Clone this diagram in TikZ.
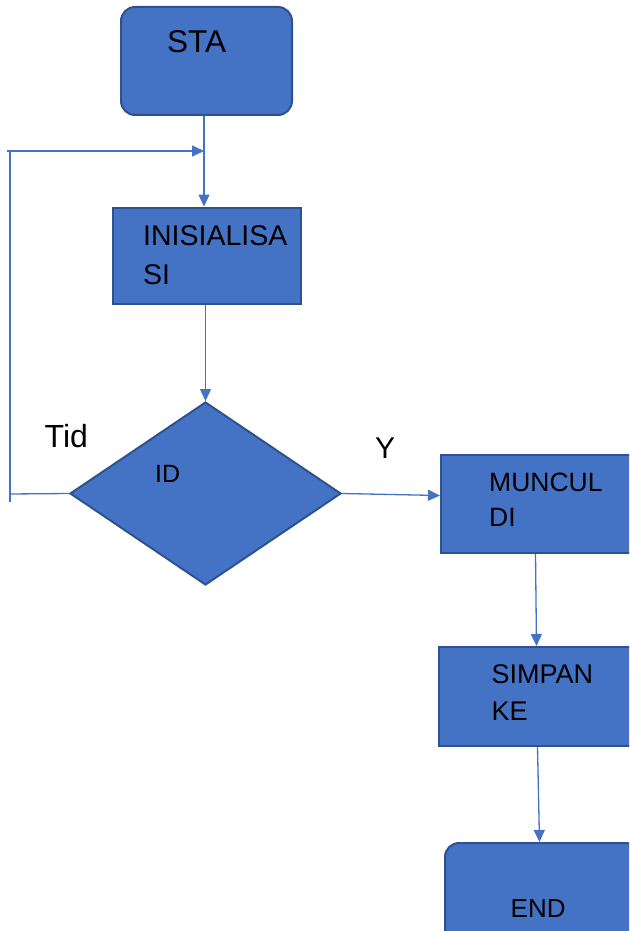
\documentclass[tikz,border=0pt]{standalone}
\usepackage{fontspec}
\setmainfont{Liberation Sans}
\usetikzlibrary{shapes.geometric,arrows.meta}
\definecolor{boxblue}{HTML}{4472C4}
\definecolor{boxedge}{HTML}{2F528F}

\begin{document}
\begin{tikzpicture}[x=1pt, y=-1pt,
    procbox/.style={draw=boxedge, fill=boxblue, line width=2pt, inner sep=0pt},
    termbox/.style={procbox, rounded corners=14pt},
    decbox/.style={procbox, diamond},
    flow/.style={draw=boxblue, line width=1.3pt, -{Triangle[length=12pt,width=11pt]}},
    plain/.style={draw=boxblue, line width=1.3pt},
    txt/.style={font=\fontsize{26}{39}\selectfont, inner sep=0pt, align=left, anchor=west}]

    % Page frame
    \useasboundingbox (0, 0) rectangle (629, 931);
    \clip (0, 0) rectangle (629, 931);

    % Shapes
    \node[termbox, minimum width=171pt, minimum height=108pt] (sta) at (206.5, 61) {};
    \node[procbox, minimum width=188pt, minimum height=96pt] (init) at (206.5, 255.5) {};
    \node[decbox, minimum width=271pt, minimum height=183pt] (dia) at (205.5, 493.5) {};
    \node[procbox, minimum width=199pt, minimum height=98pt] (munc) at (540.5, 504) {};
    \node[procbox, minimum width=201pt, minimum height=99pt] (simp) at (539.5, 696.5) {};
    \node[termbox, minimum width=195pt, minimum height=102pt] (endn) at (542.5, 894) {};

    % Texts
    \node[txt, font=\fontsize{31.5}{36}\selectfont] (statxt) at (167, 42) {STA};
    \node[txt, font=\fontsize{28.5}{39}\selectfont] (inittxt) at (143, 255.5) {INISIALISA\\SI};
    \node[txt, font=\fontsize{25}{30}\selectfont] (diatxt) at (155, 474) {ID};
    \node[txt, font=\fontsize{32}{38}\selectfont] (notxt) at (44.5, 436.5) {Tid};
    \node[txt, font=\fontsize{30}{36}\selectfont] (yestxt) at (375, 448) {Y};
    \node[txt, font=\fontsize{26.5}{35}\selectfont] (munctxt) at (489, 499.5) {MUNCUL\\DI};
    \node[txt, font=\fontsize{27}{37}\selectfont] (simptxt) at (491.5, 692.5) {SIMPAN\\KE};
    \node[txt] (endtxt) at (510.5, 908.5) {END};

    % Loop corners
    \coordinate (merge) at (204, 151);
    \coordinate (lt) at (10, 151);
    \coordinate (lb) at (10, 494);

    % Connectors
    \draw[flow] (sta.south -| merge) -- (init.north -| merge);
    \draw[flow] (init.south -| dia.north) -- (dia.north);
    \draw[flow] (dia.east) -- ([yshift=-2pt]dia.east -| munc.west);
    \draw[flow] ([xshift=-5pt]munc.south) -- ([xshift=-3pt]simp.north);
    \draw[flow] ([xshift=-2pt]simp.south) -- ([xshift=-3pt]endn.north);

    % Back to the start
    \draw[plain] (dia.west) -- ([xshift=-1pt]lb);
    \draw[plain] ([yshift=-8pt]lb) -- ([yshift=1pt]lt);
    \draw[flow] ([xshift=-3pt]lt) -- (merge);
\end{tikzpicture}
\end{document}
